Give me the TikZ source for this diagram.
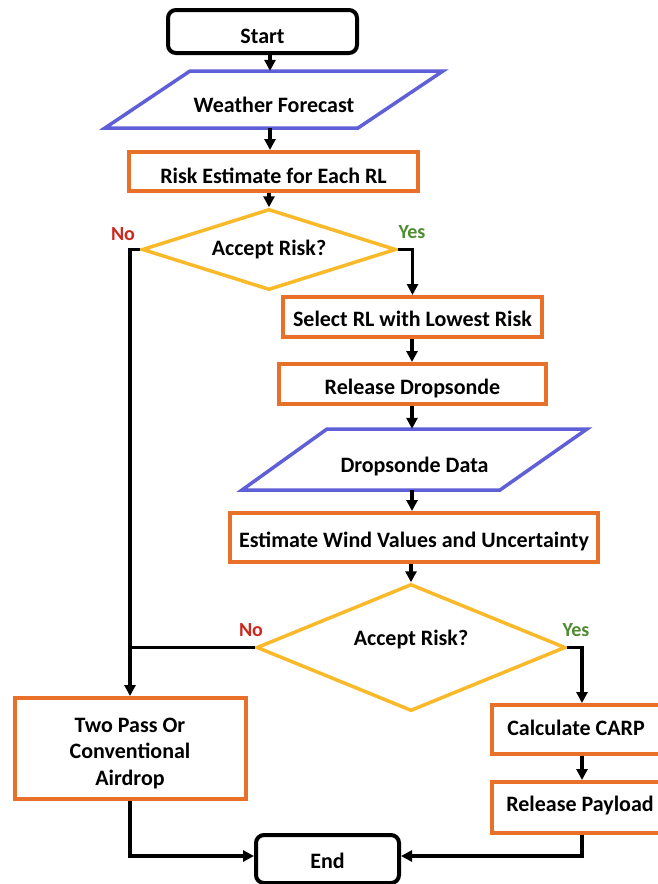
\documentclass[tikz,border=0pt]{standalone}
\usepackage{fontspec}
\setmainfont{Carlito}
\usetikzlibrary{shapes.geometric,arrows.meta,calc}
\definecolor{boxorange}{RGB}{232,112,40}
\definecolor{parblue}{RGB}{95,95,215}
\definecolor{diayellow}{RGB}{250,185,40}
\definecolor{nored}{RGB}{205,40,30}
\definecolor{yesgreen}{RGB}{80,140,50}
\begin{document}
\begin{tikzpicture}[x=1pt,y=-1pt,
  every node/.style={font=\fontsize{22}{26.5}\selectfont\bfseries, inner sep=0pt},
  terminal/.style={draw=black, line width=4pt, rounded corners=8pt, fill=white},
  procbox/.style={draw=boxorange, line width=4pt, fill=white},
  decision/.style={diamond, draw=diayellow, line width=3.5pt, fill=white},
  iobox/.style={},
  capdown/.style={text height=#1, text depth=0pt},
  capup/.style={text height=14pt, text depth=#1},
  para/.style={draw=parblue, line width=3.5pt, fill=white, line join=miter},
  arr/.style={line width=3.2pt, -{Triangle[length=11pt,width=11pt]}},
  ln/.style={line width=3.2pt},
  lab/.style={font=\fontsize{20}{22}\selectfont\bfseries}
]
\useasboundingbox (0,0) rectangle (658,884);
\fill[white] (0,0) rectangle (658,884);

% parallelograms (drawn shapes)
\draw[para] (190,71) -- (443,71) -- (358,128) -- (105,128) -- cycle;
\draw[para] (327,429) -- (587,429) -- (500,490) -- (242,490) -- cycle;

\node[terminal, capdown=23pt, minimum width=189pt, minimum height=43pt] (start) at (262.5,31.5) {Start};
\node[iobox, capdown=26pt, minimum width=253pt, minimum height=57pt] (wf) at (274,99.5) {Weather Forecast};
\node[procbox, capdown=23pt, minimum width=289pt, minimum height=39pt] (re) at (273.5,171.5) {Risk Estimate for Each RL};
\node[decision, capup=3pt, aspect=3.1, minimum width=254pt, minimum height=81pt] (d1) at (269,249.5) {Accept Risk?};
\node[procbox, capdown=19pt, minimum width=259pt, minimum height=40pt] (sel) at (412.5,317) {Select RL with Lowest Risk};
\node[procbox, capdown=21pt, minimum width=267pt, minimum height=40pt] (rel) at (412.5,384) {Release Dropsonde};
\node[iobox, capdown=26pt, minimum width=260pt, minimum height=61pt] (dd) at (414.5,459.5) {Dropsonde Data};
\node[procbox, capdown=19pt, minimum width=368pt, minimum height=49pt] (est) at (414,537.5) {Estimate Wind Values and Uncertainty};
\node[decision, capup=19pt, aspect=2.43, minimum width=309pt, minimum height=127pt] (d2) at (411,647.5) {Accept Risk?};
\node[procbox, minimum width=231pt, minimum height=101pt,
  label={[align=center, yshift=-5pt]center:Two Pass Or\\Conventional\\Airdrop}] (two) at (130,748.5) {};
\node[procbox, minimum width=170pt, minimum height=49pt,
  label={[capup=2pt, xshift=-1pt]center:Calculate CARP}] (carp) at (577,729.5) {};
\node[procbox, minimum width=170pt, minimum height=51pt,
  label={[capup=7pt, xshift=3pt]center:Release Payload}] (pay) at (577,807.5) {};
\node[terminal, capdown=19pt, minimum width=143pt, minimum height=48pt] (end) at (327.5,859) {End};

% labels
\node[lab, text=nored] (no1) at (123,234) {No};
\node[lab, text=yesgreen] (yes1) at (412,232) {Yes};
\node[lab, text=nored] (no2) at (251,630) {No};
\node[lab, text=yesgreen] (yes2) at (576,630) {Yes};

% connectors
\draw[arr] (start.south -| 270,0) -- (wf.north -| 270,0);
\draw[arr] (wf.south -| 270,0) -- (re.north -| 270,0);
\draw[arr] (re.south -| d1.north) -- (d1.north);
\draw[arr] (d1.east) -| (sel.north);
\draw[arr] (d1.west) -| (two.north);
\draw[ln] (d2.west) -- (d2.west -| two.north);
\draw[arr] (sel.south -| 412,0) -- (rel.north -| 412,0);
\draw[arr] (rel.south -| 412,0) -- (dd.north -| 412,0);
\draw[arr] (dd.south -| 412,0) -- (est.north -| 412,0);
\draw[arr] (est.south -| d2.north) -- (d2.north);
\draw[arr] (d2.east) -| ([xshift=5pt]carp.north);
\draw[arr] ([xshift=5pt]carp.south) -- ([xshift=5pt]pay.north);
\draw[arr] (two.south) |- ([yshift=3pt]end.west);
\draw[arr] ([xshift=5pt]pay.south) |- ([yshift=3pt]end.east);
\end{tikzpicture}
\end{document}
